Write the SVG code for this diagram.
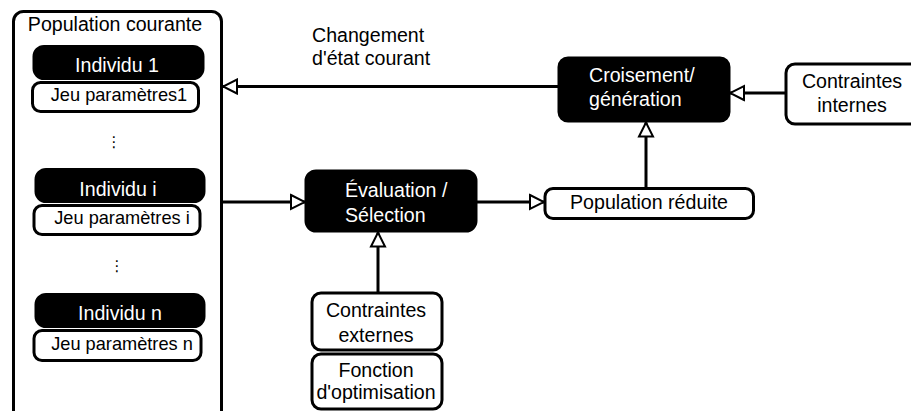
<svg xmlns="http://www.w3.org/2000/svg" width="911" height="411" viewBox="0 0 911 411">
<style>
text{font-family:"Liberation Sans",Arial,sans-serif;font-size:19.6px;fill:#000}
text.j{font-size:18.2px}
.w{fill:#fff}
.blk{fill:#000;stroke:#000;stroke-width:3}
.wht{fill:#fff;stroke:#000;stroke-width:3}
.c{text-anchor:middle}
.con{fill:none;stroke:#000;stroke-width:3}
text.dots{font-family:"DejaVu Sans",sans-serif;font-size:15px}
</style>
<defs>
<marker id="arr" markerUnits="userSpaceOnUse" viewBox="-2 -2 18 18" refX="14" refY="7" markerWidth="18" markerHeight="18" orient="auto">
<path d="M0,0 L14,7 L0,14 z" fill="#fff" stroke="#000" stroke-width="2"/>
</marker>
</defs>
<g id="population-courante">
<rect class="wht" x="13.5" y="11.5" width="208" height="420" rx="10"/>
<text class="c" x="115" y="31">Population courante</text>
</g>
<g id="individu-1">
<rect class="blk" x="34" y="46.5" width="169" height="32" rx="10"/>
<text class="c w" x="117" y="72">Individu 1</text>
</g>
<g id="jeu-1">
<rect class="wht" x="32.5" y="82.5" width="166" height="29" rx="8"/>
<text class="c j" x="119" y="101">Jeu paramètres1</text>
</g>
<text class="dots c" x="114" y="147">⋮</text>
<g id="individu-i">
<rect class="blk" x="36" y="169.5" width="168" height="32" rx="10"/>
<text class="c w" x="118" y="196">Individu i</text>
</g>
<g id="jeu-i">
<rect class="wht" x="34" y="205.5" width="166" height="29" rx="8"/>
<text class="c j" x="122" y="224">Jeu paramètres i</text>
</g>
<text class="dots c" x="117" y="271">⋮</text>
<g id="individu-n">
<rect class="blk" x="36" y="294.5" width="168" height="32" rx="10"/>
<text class="c w" x="120" y="320">Individu n</text>
</g>
<g id="jeu-n">
<rect class="wht" x="34" y="330.5" width="167" height="30" rx="8"/>
<text class="c j" x="122" y="350">Jeu paramètres n</text>
</g>
<g id="changement-label">
<text x="312" y="42">Changement</text>
<text x="312" y="65">d'état courant</text>
</g>
<g id="croisement">
<rect class="blk" x="559" y="58" width="170" height="63" rx="9"/>
<text class="w" x="589" y="82">Croisement/</text>
<text class="w" x="589" y="106">génération</text>
</g>
<g id="contraintes-internes">
<rect class="wht" x="786" y="64" width="135" height="60" rx="9"/>
<text class="c" x="852" y="88">Contraintes</text>
<text class="c" x="852" y="112">internes</text>
</g>
<g id="evaluation">
<rect class="blk" x="306" y="171" width="170" height="60" rx="10"/>
<text class="w" x="345" y="197">Évaluation /</text>
<text class="w" x="345" y="222">Sélection</text>
</g>
<g id="population-reduite">
<rect class="wht" x="545" y="188.5" width="208.5" height="30" rx="8"/>
<text class="c" x="649" y="209">Population réduite</text>
</g>
<g id="contraintes-externes">
<rect class="wht" x="312" y="293" width="130" height="57" rx="9"/>
<text class="c" x="376" y="317">Contraintes</text>
<text class="c" x="376" y="342">externes</text>
</g>
<g id="fonction-optimisation">
<rect class="wht" x="312" y="354" width="130" height="55" rx="9"/>
<text class="c" x="376" y="377">Fonction</text>
<text class="c" x="376" y="399">d'optimisation</text>
</g>
<g id="connectors">
<line class="con" x1="559" y1="86.5" x2="223" y2="86.5" marker-end="url(#arr)"/>
<line class="con" x1="786" y1="93" x2="730" y2="93" marker-end="url(#arr)"/>
<line class="con" x1="646" y1="188" x2="646" y2="122.5" marker-end="url(#arr)"/>
<line class="con" x1="223" y1="202" x2="305" y2="202" marker-end="url(#arr)"/>
<line class="con" x1="477" y1="202" x2="544" y2="202" marker-end="url(#arr)"/>
<line class="con" x1="378" y1="292" x2="378" y2="232.5" marker-end="url(#arr)"/>
</g>
</svg>
